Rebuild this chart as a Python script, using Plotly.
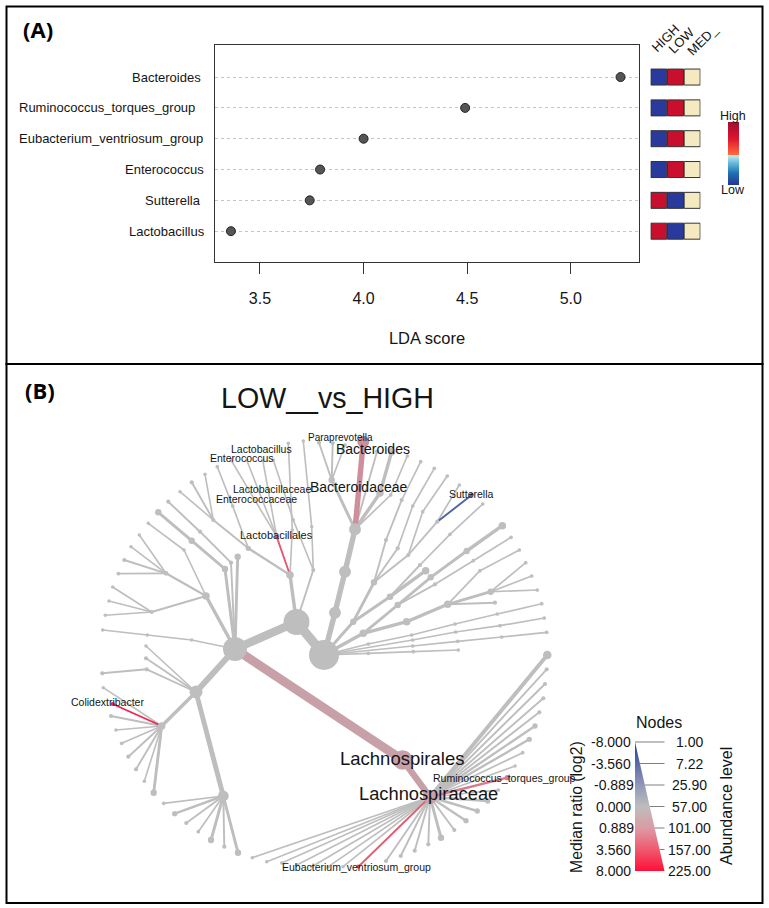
import plotly.graph_objects as go

W, H = 769, 908
SANS = "Liberation Sans"

# ---------- Panel A data ----------
lda_taxa = ["Bacteroides", "Ruminococcus_torques_group", "Eubacterium_ventriosum_group",
            "Enterococcus", "Sutterella", "Lactobacillus"]
lda_scores = [5.24, 4.49, 4.00, 3.79, 3.74, 3.36]
lda_label_right = [202, 196, 204, 205, 202, 206]
lda_ticks = [3.5, 4.0, 4.5, 5.0]
groups = ["HIGH", "LOW", "MED_"]
group_label_x = [665, 681, 702]
group_label_y = [38, 40, 40]
heat_high = [-1, -1, -1, -1, 1, 1]
heat_low = [1, 1, 1, 1, -1, -1]
heat_med = [0, 0, 0, 0, 0, 0]

# ---------- Panel B data: the heat tree, drawn in the tree's layout coordinates ----------
node_id = ["R", "B", "C", "D", "E", "Lo", "Lc",
           "D1", "D1a", "D1b", "D1c", "D2", "D2a", "D3", "D3a", "D3b", "D3c", "D3d",
           "C1", "C1a", "C1b", "C2", "C2a", "C2b", "C3", "C4", "C4a", "C4b",
           "E1", "E1a", "Coli", "E1c", "E1d", "E1e", "E1f", "E1g", "E1h", "E1i",
           "E2", "E2a", "E2b", "E2c", "E2d", "E2e", "E2f", "E2g",
           "E3", "E3a", "E4", "E5",
           "F", "Lb", "Lb1", "Lb2", "Lb3", "F2", "F2a", "F2a1", "F2a2", "F2a3", "F2b", "F2b1",
           "F3", "F3a", "G", "G1", "G1a", "G2", "G2a",
           "T1", "T2", "H", "Bf", "Bf1", "Bf2", "Bf3", "Bac", "H1", "H2", "H2a", "H3", "H3a",
           "I", "J", "J1", "J1a", "J1b", "J2", "J2a", "J2b", "J3", "J3a", "J3b", "J4", "Sut", "J4a",
           "K", "K1", "K1a", "K1b", "K1c", "K1d",
           "K2", "K2a", "K2b", "K2c", "K2d", "K2e", "K2f",
           "L", "L1", "L2", "L2a", "L2b", "L2c", "L3", "L4", "L4a",
           "M1", "M1a", "M1b", "M1c", "M1d", "M2", "M2a", "M2b", "M2c",
           "M3", "M3a", "M3b", "M3c", "M4", "M4a", "M4b",
           "P1", "P2", "P3", "P4", "P5", "P6", "P7", "P8", "P9", "Rum", "P11", "P12", "P13", "P14",
           "P15", "P16", "P17", "P18", "P19", "P20", "Eub", "P22", "P23", "P24", "P25", "P26", "P27", "P28"]
node_parent = [None, "R", "B", "C", "C", "C", "Lo",
               "D", "D1", "D1", "D1", "D", "D2", "D", "D3", "D3", "D3", "D3",
               "C", "C1", "C1a", "C", "C2", "C2a", "C", "C", "C4", "C4a",
               "E", "E1", "E1", "E1", "E1", "E1", "E1", "E1", "E1", "E1",
               "E", "E2", "E2", "E2", "E2", "E2", "E2", "E2",
               "E", "E3", "E", "E",
               "B", "F", "Lb", "Lb", "Lb", "F", "F2", "F2a", "F2a", "F2a", "F2", "F2b",
               "F", "F3", "B", "G", "G1", "G", "G2",
               "R", "T1", "T2", "H", "Bf", "Bf", "Bf", "H", "H", "H", "H2", "H", "H3",
               "R", "I", "J", "J1", "J1a", "J", "J2", "J2a", "J", "J3", "J3a", "J3", "J4", "J4",
               "R", "I", "K1", "K1", "K1b", "K1c",
               "K", "K2", "K2a", "K2b", "K2", "K2d", "K2e",
               "K", "L", "L1", "L2", "L2", "L2", "L1", "L1", "L4",
               "R", "M1", "M1a", "M1b", "M1c", "R", "M2", "M2a", "M2b",
               "R", "M3", "M3a", "M3b", "R", "M4", "M4a",
               "Lc", "Lc", "Lc", "Lc", "Lc", "Lc", "Lc", "Lc", "Lc", "Lc", "Lc", "Lc", "Lc", "Lc",
               "Lc", "Lc", "Lc", "Lc", "Lc", "Lc", "Lc", "Lc", "Lc", "Lc", "Lc", "Lc", "Lc", "Lc"]
node_x = [324, 296.5, 235, 206, 196, 402.7, 430,
          151.7, 112.7, 109, 105.3, 184, 148.3, 166, 139.3, 131, 124.3, 118.3,
          225, 191.7, 158.3, 231, 200, 168.3, 237.7, 191.7, 147.3, 102.7,
          161.7, 103.3, 112.7, 111, 116, 121.7, 128.3, 136, 144.3, 153.7,
          223.3, 163.7, 174.7, 186.3, 198.3, 211, 224.3, 238,
          146.7, 102.3, 146, 146,
          290, 276.7, 231, 246.7, 262.7, 248.3, 213.3, 180, 191.7, 205, 232.7, 217.3,
          292.3, 288.3, 313.3, 311.7, 303.3, 293.3, 273.3,
          335, 345, 355, 331.7, 319, 332.7, 345, 363.3, 377, 380, 391.7, 390.7, 407.3,
          353.3, 374, 386, 401.7, 420.7, 397.7, 412.7, 434.3, 408.3, 422.7, 447.3, 437.3, 471.7, 459.3,
          363.3, 390, 425.7, 420, 450, 482.7,
          397.7, 430.7, 466.7, 502.3, 435, 473.3, 511,
          406.7, 447.7, 490.7, 525.7, 531.7, 537.3, 495, 480, 519.3,
          368.3, 411.7, 455, 497.3, 541.7, 412.7, 455.7, 500, 544.3,
          412.7, 457.7, 501.7, 546.7, 368.3, 413.3, 458.3,
          547.3, 546.7, 545, 543.3, 539.3, 535, 529.3, 522.7, 515, 507.3, 498.3, 487.7, 477.3, 466,
          454.3, 441, 428.3, 414.7, 400.7, 386, 358.3, 252.3, 266.7, 281.7, 296.7, 311.7, 328.3, 343]
node_y = [655, 622, 649, 596, 692, 760, 797,
          612, 587, 601, 615.3, 550, 523.3, 573.3, 535, 546.7, 560, 573.7,
          569, 540.7, 512.3, 562.7, 531.7, 501.7, 556.7, 640, 635, 630,
          726, 687.7, 704, 716, 730, 743.3, 756.7, 769.3, 781.3, 792.7,
          796, 803.3, 813.7, 823, 831.7, 840, 846.7, 852.7,
          669.3, 673.3, 658.3, 646,
          575, 536.7, 460, 460, 460, 548.3, 520, 491.7, 482.3, 474.3, 506, 466.7,
          530, 443.3, 570, 526.7, 441, 520, 460,
          612.7, 571.7, 529.3, 480, 442.7, 443, 445, 441.7, 451.7, 493, 451.7, 495, 456,
          621.7, 582.3, 540, 500, 461.7, 548.3, 506, 468.3, 555, 511.7, 476, 521.7, 495, 485,
          633.3, 596.7, 570.7, 565, 534.3, 504,
          605, 577.3, 551, 525.7, 584.3, 560.7, 537.3,
          621.7, 604.3, 591.7, 562.7, 576, 590, 602.7, 570.7, 550,
          644, 635, 624, 614, 603.7, 640, 632, 625.7, 618,
          646, 641.3, 637, 632.3, 653.3, 651.7, 650,
          655, 669.3, 684, 698.3, 712.3, 726, 739.3, 752.7, 766, 777.7, 790, 801, 811, 820.7,
          830, 837.7, 844.3, 850.7, 856, 861, 866.7, 857.7, 861.7, 863, 865, 866.7, 866.7, 866.7]
node_abund = [225, 224, 196, 56, 126, 210, 140,
              14, 6, 6, 6, 6, 6, 22, 6, 6, 14, 8,
              42, 42, 42, 14, 14, 14, 42, 6, 6, 6,
              56, 6, 14, 14, 6, 8, 14, 14, 6, 42,
              98, 8, 28, 14, 8, 42, 14, 42,
              14, 14, 14, 6,
              56, 14, 6, 6, 6, 28, 14, 6, 14, 6, 8, 8,
              6, 6, 14, 6, 6, 6, 6,
              112, 112, 112, 42, 14, 14, 8, 112, 14, 56, 56, 8, 8,
              42, 42, 14, 14, 8, 14, 8, 8, 14, 8, 8, 14, 14, 8,
              56, 42, 56, 14, 8, 8,
              42, 42, 42, 56, 14, 8, 8,
              56, 56, 42, 8, 8, 8, 14, 8, 8,
              8, 8, 8, 8, 8, 8, 8, 8, 8,
              8, 8, 8, 8, 8, 8, 8,
              70, 14, 14, 14, 14, 28, 28, 8, 6, 28, 8, 28, 28, 28,
              14, 42, 14, 14, 14, 14, 14, 6, 6, 6, 6, 6, 6, 6]
hub_ids = ["R", "B", "C"]
hub_node_level = [225, 195, 180]
ratio_ids = ["Lo", "Lc", "Bac", "Lb", "Coli", "Rum", "Eub", "Sut"]
ratio_values = [0.2, 0.2, 0.5, 2.4, 5.1, 1.0, 2.0, -3.9]

tree_labels = ["Paraprevotella", "Bacteroides", "Bacteroidaceae", "Lactobacillus", "Enterococcus",
               "Lactobacillaceae", "Enterococcaceae", "Lactobacillales", "Sutterella", "Colidextribacter",
               "Lachnospirales", "Lachnospiraceae", "Eubacterium_ventriosum_group"]
tree_label_x = [340, 373, 359, 261, 241.7, 271.7, 256.7, 276.7, 471, 107.3, 402, 428, 356.7]
tree_label_y = [437, 448.5, 486.5, 449, 457.7, 489, 499, 535.3, 494, 702.3, 758.3, 793.7, 866.7]
tree_label_size = [10, 14, 14, 10.5, 10.5, 10.5, 10.5, 11, 10.5, 10.5, 18.5, 18.3, 10.5]

legend_ratio = ["-8.000", "-3.560", "-0.889", "0.000", "0.889", "3.560", "8.000"]
legend_abund = ["1.00", "7.22", "25.90", "57.00", "101.00", "157.00", "225.00"]

assert len(node_id) == len(node_parent) == len(node_x) == len(node_y) == len(node_abund)

GREY = (190, 190, 190)
RED = (255, 0, 51)
BLUE = (31, 61, 153)


def ratio_color(r):
    t = (abs(r) / 8) ** 0.5
    end = RED if r > 0 else BLUE
    c = [round(g + (e - g) * t) for g, e in zip(GREY, end)]
    return f"rgb({c[0]},{c[1]},{c[2]})"


def edge_width(a):
    return 1.4 + a / 28


fig = go.Figure()
ratio_of = dict(zip(ratio_ids, ratio_values))
pos = {n: (x, y) for n, x, y in zip(node_id, node_x, node_y)}

# Draw grey branches first, coloured ones over them
order = sorted(range(len(node_id)), key=lambda i: node_id[i] in ratio_of)
for i in order:
    if node_parent[i] is None:
        continue
    px, py = pos[node_parent[i]]
    fig.add_trace(go.Scatter(
        x=[px, node_x[i]], y=[py, node_y[i]], mode="lines", hoverinfo="skip", showlegend=False,
        line=dict(color=ratio_color(ratio_of.get(node_id[i], 0)), width=edge_width(node_abund[i])),
        xaxis="x", yaxis="y"))

sizes = []
for n, a in zip(node_id, node_abund):
    if n in hub_ids:
        sizes.append(hub_node_level[hub_ids.index(n)] * 30 / 225)
    else:
        sizes.append(max(3.5, 2.2 * edge_width(a)))
fig.add_trace(go.Scatter(
    x=node_x, y=node_y, mode="markers", hoverinfo="skip", showlegend=False,
    marker=dict(size=sizes, opacity=1, color=[ratio_color(ratio_of.get(n, 0)) for n in node_id],
                line=dict(width=0)),
    xaxis="x", yaxis="y"))

# Tree legend
TOP, BOTTOM, LEFT, RIGHT = 742, 871, 635, 664.5
fig.add_trace(go.Scatter(
    x=[LEFT, LEFT, RIGHT, LEFT], y=[TOP, BOTTOM, BOTTOM, TOP], mode="lines", fill="toself",
    line=dict(width=0), hoverinfo="skip", showlegend=False, xaxis="x", yaxis="y",
    fillgradient=dict(type="vertical", start=TOP, stop=BOTTOM, colorscale=[
        [0, "#263c95"], [0.33, "#8f97b5"], [0.5, "#bdbdbd"], [0.67, "#dc9aa5"],
        [0.83, "#f05a70"], [1, "#ff0f38"]])))
n_leg = len(legend_ratio)
for i in range(n_leg):
    frac = i / (n_leg - 1)
    ly = TOP + frac * (BOTTOM - TOP)
    lx = LEFT + frac * (RIGHT - LEFT)
    fig.add_trace(go.Scatter(x=[lx, RIGHT], y=[ly, ly], mode="lines", line=dict(color="#808080", width=1),
                             hoverinfo="skip", showlegend=False, xaxis="x", yaxis="y"))

# Panel A dots
fig.add_trace(go.Scatter(
    x=lda_scores, y=lda_taxa, mode="markers", showlegend=False, xaxis="x2", yaxis="y2",
    marker=dict(size=9, color="#555555", line=dict(color="#222222", width=1))))

# Panel A group cells
HEAT_COLORS = {-1: "#2a3a9c", 1: "#c8102e", 0: "#f5e9c0"}
for g, col in zip(groups, [heat_high, heat_low, heat_med]):
    fig.add_trace(go.Scatter(
        x=[g] * len(lda_taxa), y=lda_taxa, mode="markers", showlegend=False, xaxis="x3", yaxis="y3",
        marker=dict(symbol="square", size=16, color=[HEAT_COLORS[v] for v in col],
                    line=dict(color="#333333", width=1))))

# Panel A High/Low scale
fig.add_trace(go.Heatmap(
    z=[[0, 0], [1, 1]], zsmooth="best", showscale=False, hoverinfo="skip", xaxis="x4", yaxis="y4",
    colorscale=[[0, "#2a2e8f"], [0.2, "#1f6fb2"], [0.35, "#5bb5d5"], [0.49, "#c9ecf2"],
                [0.5, "#ff6a3c"], [0.75, "#dd1530"], [1, "#a50f2d"]]))


def label(text, x, y, size, anchor="center", angle=0, family=SANS, color="#151515", xref="x", yref="y"):
    return dict(text=text, x=x, y=y, xref=xref, yref=yref, xanchor=anchor, yanchor="middle",
                showarrow=False, textangle=angle, borderpad=0,
                font=dict(size=size, family=family, color=color))


anns = []
anns.append(label("<b>(A)</b>", 38, 29, 22, family="Open Sans", color="#000000"))
anns.append(label("<b>(B)</b>", 40, 390, 22, family="Open Sans", color="#000000"))
for t, r in zip(lda_taxa, lda_label_right):
    anns.append(label(t, r, t, 13, anchor="right", yref="y2"))
for g, gx, gy in zip(groups, group_label_x, group_label_y):
    anns.append(label(g, gx, gy, 13, angle=-45))
anns.append(label("High", 733, 116, 12.5))
anns.append(label("Low", 733, 190, 12.5))
anns.append(label("LOW__vs_HIGH", 327, 398, 28.6))
for t, x, y, s in zip(tree_labels, tree_label_x, tree_label_y, tree_label_size):
    anns.append(label(t, x, y, s))
anns.append(label("Ruminococcus_torques_group", 432.3, 777.7, 10.5, anchor="left"))
anns.append(label("Nodes", 659, 722.7, 16))
anns.append(label("Median ratio (log2)", 576, 807, 15.8, angle=-90))
anns.append(label("Abundance level", 726, 806, 16, angle=-90))
for i, (a, b) in enumerate(zip(legend_ratio, legend_abund)):
    ly = TOP + i / (n_leg - 1) * (BOTTOM - TOP)
    anns.append(label(a, 635 if a.endswith("0.889") else 632, ly, 14, anchor="right"))
    anns.append(label(b, 689, ly, 14))

frames = [dict(type="rect", xref="x", yref="y", x0=6.5, x1=762.5, y0=6.5, y1=364,
               line=dict(color="#000000", width=2)),
          dict(type="rect", xref="x", yref="y", x0=6.5, x1=762.5, y0=364, y1=903,
               line=dict(color="#000000", width=2))]

hidden = dict(visible=False, showgrid=False, zeroline=False)
row_range = [-1.0, 6.04]
cat_array = list(reversed(lda_taxa))
fig.update_layout(
    width=W, height=H, margin=dict(l=0, r=0, t=0, b=0), paper_bgcolor="white", plot_bgcolor="rgba(0,0,0,0)",
    showlegend=False, annotations=anns, shapes=frames,
    xaxis=dict(domain=[0, 1], range=[0, W], **hidden),
    yaxis=dict(domain=[0, 1], range=[H, 0], **hidden),
    xaxis2=dict(domain=[215 / W, 639 / W], range=[3.283, 5.329], anchor="y2", tickvals=lda_ticks,
                ticktext=[f"{v:.1f}" for v in lda_ticks], ticks="outside", ticklen=11, tickcolor="#333333",
                tickfont=dict(size=16, family=SANS, color="#151515"), ticklabelstandoff=11,
                showline=True, mirror=True, linecolor="#333333", linewidth=1, showgrid=False, zeroline=False,
                title=dict(text="LDA score", standoff=26, font=dict(size=16.5, family=SANS, color="#151515"))),
    yaxis2=dict(domain=[1 - 262 / H, 1 - 45 / H], anchor="x2", type="category", categoryorder="array",
                categoryarray=cat_array, range=row_range, showticklabels=False, ticks="",
                showgrid=True, gridcolor="#c4c4c4", griddash="dot", gridwidth=1,
                showline=True, mirror=True, linecolor="#333333", linewidth=1, zeroline=False),
    xaxis3=dict(domain=[650.5 / W, 700.5 / W], anchor="y3", type="category", categoryorder="array",
                categoryarray=groups, range=[-0.5, 2.5], **hidden),
    yaxis3=dict(domain=[1 - 262 / H, 1 - 45 / H], anchor="x3", type="category", categoryorder="array",
                categoryarray=cat_array, range=row_range, **hidden),
    xaxis4=dict(domain=[728 / W, 739 / W], anchor="y4", range=[0, 1], **hidden),
    yaxis4=dict(domain=[1 - 185 / H, 1 - 122 / H], anchor="x4", range=[0, 1], **hidden),
)

fig.write_html("out.html", config=dict(displayModeBar=False),
               post_script="document.body.style.margin='0';document.body.style.overflow='hidden';")
